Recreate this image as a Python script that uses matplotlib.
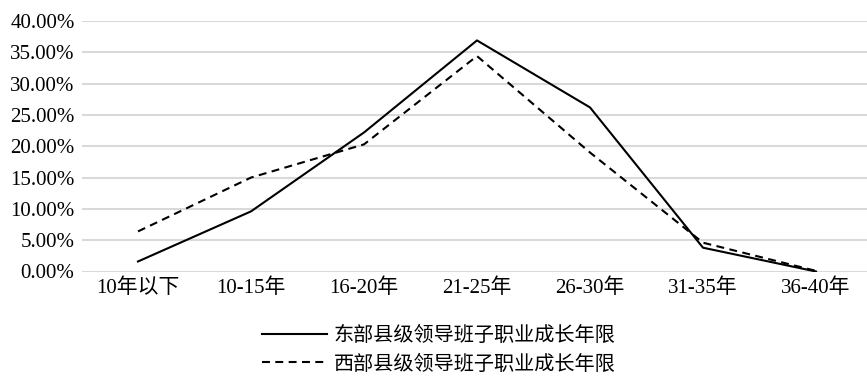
import matplotlib
matplotlib.use("Agg")
import matplotlib.pyplot as plt
from matplotlib.ticker import FuncFormatter

plt.rcParams["font.family"] = ["Liberation Serif", "Noto Sans CJK SC"]

# 职业成长年限分布（占比）
categories = ["10年以下", "10-15年", "16-20年", "21-25年", "26-30年", "31-35年", "36-40年"]
east_share = [0.016, 0.096, 0.222, 0.369, 0.262, 0.038, 0.000]
west_share = [0.064, 0.150, 0.203, 0.344, 0.190, 0.046, 0.001]
series_names = ["东部县级领导班子职业成长年限", "西部县级领导班子职业成长年限"]

fig = plt.figure(figsize=(8.67, 3.76), dpi=100)
ax = fig.add_axes([81.5 / 867, 104.5 / 376, 791 / 867, 250.5 / 376])

x = range(len(categories))
ax.plot(x, east_share, color="black", lw=1.5, label=series_names[0])
ax.plot(x, west_share, color="black", lw=1.5, ls=(0, (3.8, 2.6)), label=series_names[1])

ax.set_xlim(-0.5, len(categories) - 0.5)
ax.set_ylim(0, 0.40)
ax.set_yticks([i * 0.05 for i in range(9)])
ax.yaxis.set_major_formatter(FuncFormatter(lambda v, _: f"{v * 100:.2f}%"))
ax.set_xticks(list(x))
ax.set_xticklabels(categories)

ax.grid(axis="y", color="#d9d9d9", lw=1.5)
ax.set_axisbelow(True)
for side in ax.spines.values():
    side.set_visible(False)
ax.tick_params(length=0, labelsize=15, colors="black")
ax.tick_params(axis="x", pad=5)
ax.tick_params(axis="y", pad=5)

fig.legend(loc="center", bbox_to_anchor=(0.506, 0.067), frameon=False,
           fontsize=14.5, handlelength=3.2, handletextpad=0.35, labelspacing=0.45)

fig.savefig("out.png", dpi=100)
